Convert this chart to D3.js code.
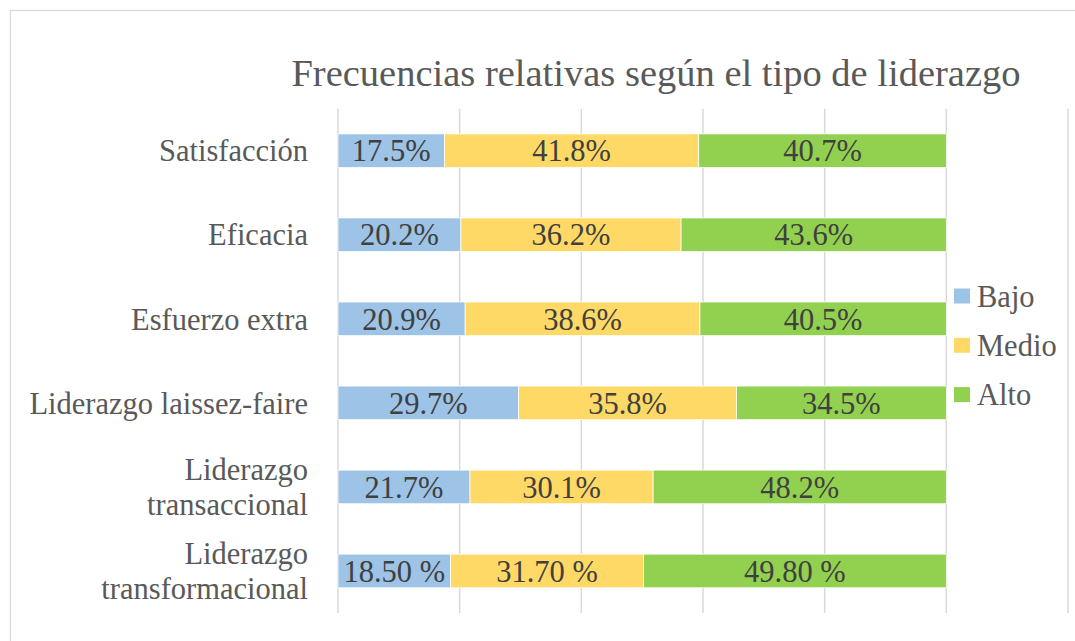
<!DOCTYPE html>
<html>
<head>
<meta charset="utf-8">
<script src="https://cdn.jsdelivr.net/npm/d3@7"></script>
<style>
  body { margin: 0; background: #fff; }
</style>
</head>
<body>
<div id="chart"></div>
<script>
const categories = ['Satisfacción', 'Eficacia', 'Esfuerzo extra', 'Liderazgo laissez-faire',
  'Liderazgo transaccional', 'Liderazgo transformacional'];
const bajo = [17.5, 20.2, 20.9, 29.7, 21.7, 18.5];
const medio = [41.8, 36.2, 38.6, 35.8, 30.1, 31.7];
const alto = [40.7, 43.6, 40.5, 34.5, 48.2, 49.8];
const bajoLabels = ['17.5%', '20.2%', '20.9%', '29.7%', '21.7%', '18.50 %'];
const medioLabels = ['41.8%', '36.2%', '38.6%', '35.8%', '30.1%', '31.70 %'];
const altoLabels = ['40.7%', '43.6%', '40.5%', '34.5%', '48.2%', '49.80 %'];
const seriesNames = ['Bajo', 'Medio', 'Alto'];
const xTicks = [0, 20, 40, 60, 80, 100, 120];

const width = 1075, height = 641;
const margin = { top: 108.7, right: 7, bottom: 28, left: 338 };
const FONT = '"Liberation Serif", "Times New Roman", serif';

const svg = d3.select('#chart').append('svg')
  .attr('width', width)
  .attr('height', height);

// chart frame
svg.append('rect')
  .attr('x', 10.5).attr('y', 10.5)
  .attr('width', 1200).attr('height', 800)
  .attr('fill', 'none')
  .attr('stroke', '#d9d9d9')
  .attr('stroke-width', 1.3);

const x = d3.scaleLinear().domain([0, 120]).range([margin.left, width - margin.right]);
const y = d3.scaleBand().domain(categories).range([margin.top, height - margin.bottom]).paddingInner(0.6).paddingOuter(0.3);
const color = d3.scaleOrdinal().domain(seriesNames).range(['#9dc3e6', '#ffd966', '#92d050']);

// gridlines
svg.append('g')
  .selectAll('line')
  .data(xTicks)
  .join('line')
  .attr('x1', d => x(d)).attr('x2', d => x(d))
  .attr('y1', margin.top).attr('y2', height - margin.bottom)
  .attr('stroke', '#d9d9d9')
  .attr('stroke-width', 1.5);

const rows = categories.map((c, i) => ({ category: c, Bajo: bajo[i], Medio: medio[i], Alto: alto[i] }));
const labels = { Bajo: bajoLabels, Medio: medioLabels, Alto: altoLabels };
const stacked = d3.stack().keys(seriesNames)(rows);

const groups = svg.append('g')
  .selectAll('g')
  .data(stacked)
  .join('g')
  .attr('fill', d => color(d.key));

groups.selectAll('rect')
  .data(d => d)
  .join('rect')
  .attr('x', d => x(d[0]))
  .attr('y', d => y(d.data.category))
  .attr('width', d => x(d[1]) - x(d[0]))
  .attr('height', y.bandwidth())
  .attr('stroke', '#fff')
  .attr('stroke-width', 0.75);

// data labels
stacked.forEach(s => {
  svg.append('g')
    .selectAll('text')
    .data(s)
    .join('text')
    .attr('x', d => (x(d[0]) + x(d[1])) / 2)
    .attr('y', d => y(d.data.category) + y.bandwidth() / 2)
    .attr('dy', '0.35em')
    .attr('text-anchor', 'middle')
    .style('font-family', FONT)
    .style('font-size', '30.5px')
    .attr('fill', '#404040')
    .text((d, i) => labels[s.key][i]);
});

// category labels, two-line for the long "Liderazgo ..." ones
const catG = svg.append('g');
categories.forEach(c => {
  const words = c.startsWith('Liderazgo') && c !== 'Liderazgo laissez-faire' ? c.split(' ') : [c];
  const cy = y(c) + y.bandwidth() / 2;
  const lineH = 34.8;
  words.forEach((w, j) => {
    catG.append('text')
      .attr('x', 308)
      .attr('y', cy + (j - (words.length - 1) / 2) * lineH)
      .attr('dy', '0.35em')
      .attr('text-anchor', 'end')
      .style('font-family', FONT)
      .style('font-size', '30.5px')
      .attr('fill', '#595959')
      .text(w);
  });
});

// title
svg.append('text')
  .attr('x', 656)
  .attr('y', 86)
  .attr('text-anchor', 'middle')
  .style('font-family', FONT)
  .style('font-size', '38.5px')
  .attr('fill', '#595959')
  .text('Frecuencias relativas según el tipo de liderazgo');

// legend
const legend = svg.append('g').attr('transform', 'translate(954,296)');
seriesNames.forEach((name, i) => {
  const g = legend.append('g').attr('transform', `translate(0,${i * 49.3})`);
  g.append('rect')
    .attr('x', 0).attr('y', -7.5)
    .attr('width', 16).attr('height', 15)
    .attr('fill', color(name));
  g.append('text')
    .attr('x', 23)
    .attr('y', 0)
    .attr('dy', '0.35em')
    .style('font-family', FONT)
    .style('font-size', '30.5px')
    .attr('fill', '#595959')
    .text(name);
});
</script>
</body>
</html>
